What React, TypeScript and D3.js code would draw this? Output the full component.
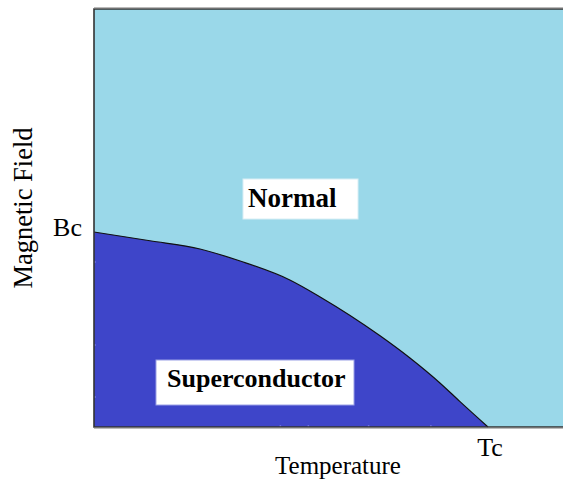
import React from "react";
import * as d3 from "d3";

// Phase boundary: reduced temperature T/Tc vs reduced critical field B/Bc
const temps = [0, 0.142, 0.269, 0.371, 0.497, 0.574, 0.65, 0.726, 0.802, 0.878, 0.929, 1];
const fields = [1, 0.955, 0.913, 0.851, 0.754, 0.667, 0.572, 0.468, 0.354, 0.226, 0.13, 0];
const regionLabels = ["Normal", "Superconductor"];
const axisTitles = ["Temperature", "Magnetic Field"];
const tickLabels = ["Tc", "Bc"];

const W = 563;
const H = 485;
const LIGHT = "#9ad8e9";
const DARK = "#3e45c9";

export default function App() {
  const x = d3.scaleLinear().domain([0, 1]).range([94, 488]);
  const y = d3.scaleLinear().domain([0, 1]).range([427, 232]);
  const xMax = x.invert(W + 10);
  const yMax = y.invert(9);

  const pts = temps.map((t, i) => [t, fields[i]] as [number, number]);
  const area = d3
    .area<[number, number]>()
    .x((d) => x(d[0]))
    .y0(y(0))
    .y1((d) => y(d[1]))
    .curve(d3.curveMonotoneX)(pts) as string;
  const line = d3
    .line<[number, number]>()
    .x((d) => x(d[0]))
    .y((d) => y(d[1]))
    .curve(d3.curveMonotoneX)(pts) as string;

  const bottomTicks = [0.473, 0.544, 0.697, 0.855];
  const leftTicks = [0.846, 0.421, 0.154];

  return (
    <svg width={W} height={H} style={{ position: "absolute", left: 0, top: 0, background: "#fff" }}>
      <style>{`.lbl { font-family: 'Liberation Serif', 'Times New Roman', serif !important; fill: #000; }`}</style>
      <rect x={x(0)} y={y(yMax)} width={x(xMax) - x(0)} height={y(0) - y(yMax)} fill={LIGHT} />
      <path d={area} fill={DARK} />
      <path d={line} fill="none" stroke="#111" strokeWidth={1.2} />
      {bottomTicks.map((t, i) => (
        <line key={"b" + i} x1={x(t)} x2={x(t)} y1={y(0) - 2} y2={y(0)} stroke="#6a70e0" strokeWidth={1.5} />
      ))}
      {leftTicks.map((b, i) => (
        <line key={"l" + i} x1={x(0)} x2={x(0) + 2} y1={y(b)} y2={y(b)} stroke="#6a70e0" strokeWidth={1.5} />
      ))}
      {/* frame */}
      <path
        d={`M${x(xMax)},${y(yMax)} L${x(0)},${y(yMax)} L${x(0)},${y(0)} L${x(xMax)},${y(0)}`}
        fill="none"
        stroke="#333"
        strokeWidth={1.6}
      />
      <line x1={x(0)} x2={x(xMax)} y1={y(yMax) - 1.3} y2={y(yMax) - 1.3} stroke="#aaa" strokeWidth={1} />
      <line x1={x(0)} x2={x(xMax)} y1={y(0) + 1.3} y2={y(0) + 1.3} stroke="#aaa" strokeWidth={1} />

      {/* region labels */}
      <rect x={243} y={179} width={115} height={40} fill="#fff" stroke="#d8eef5" strokeWidth={1} />
      <text className="lbl" x={248} y={207} fontSize={27} fontWeight="bold" fontFamily="Liberation Serif">
        {regionLabels[0]}
      </text>
      <rect x={156} y={360} width={198} height={45} fill="#fff" stroke="#9aa0e6" strokeWidth={1} />
      <text className="lbl" x={167} y={387} fontSize={26} fontWeight="bold" fontFamily="Liberation Serif">
        {regionLabels[1]}
      </text>

      {/* tick labels */}
      <text className="lbl" x={x(1) + 2} y={456} fontSize={26} textAnchor="middle" fontFamily="Liberation Serif">
        {tickLabels[0]}
      </text>
      <text className="lbl" x={82} y={y(1) + 4} fontSize={26} textAnchor="end" fontFamily="Liberation Serif">
        {tickLabels[1]}
      </text>

      {/* axis titles */}
      <text className="lbl" x={338} y={474} fontSize={25} textAnchor="middle" fontFamily="Liberation Serif">
        {axisTitles[0]}
      </text>
      <text
        className="lbl"
        transform={`translate(32,208) rotate(-90)`}
        fontSize={26.5}
        textAnchor="middle"
        fontFamily="Liberation Serif"
      >
        {axisTitles[1]}
      </text>
    </svg>
  );
}
